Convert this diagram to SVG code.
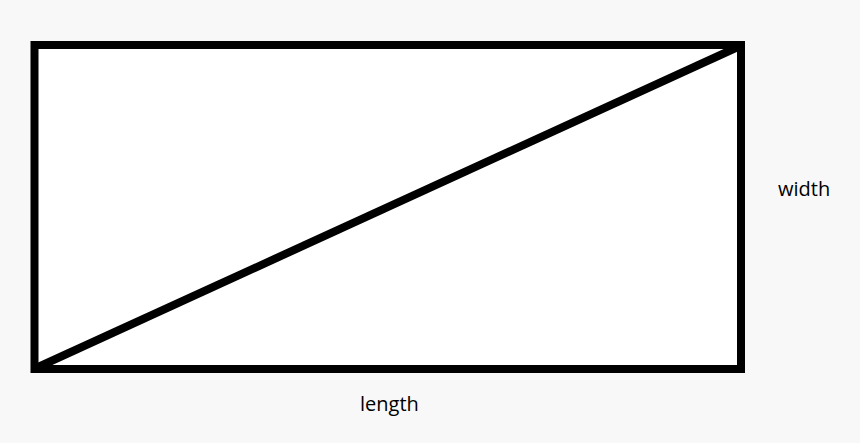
<svg xmlns="http://www.w3.org/2000/svg" width="860" height="443" viewBox="0 0 860 443">
<style>
.lbl{font-family:"Open Sans","Liberation Sans",sans-serif;font-size:20px;fill:#000}
.ln{stroke:#000;stroke-width:8;fill:none}
.box{stroke:#000;stroke-width:8;fill:#fff}
</style>
<rect width="860" height="443" fill="#f8f8f8"/>
<g id="rectangle">
<rect x="34.5" y="45" width="706.5" height="324" class="box"/>
</g>
<g id="connectors">
<line x1="36" y1="368" x2="740" y2="46" class="ln"/>
</g>
<g id="label-width"><text class="lbl" x="778" y="196">width</text></g>
<g id="label-length"><text class="lbl" x="360" y="411">length</text></g>
</svg>
